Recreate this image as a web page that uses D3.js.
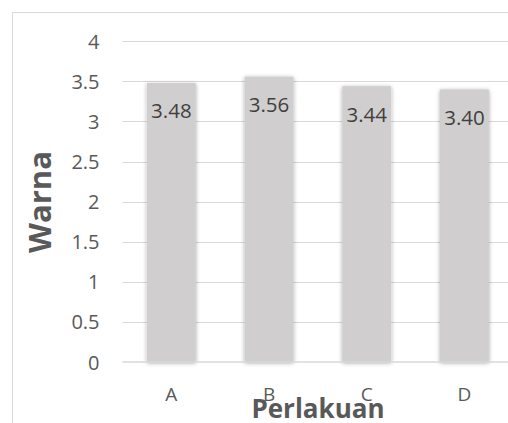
<!DOCTYPE html>
<html>
<head>
<meta charset="utf-8">
<script src="https://cdn.jsdelivr.net/npm/d3@7"></script>
<style>
  html, body { margin: 0; padding: 0; background: #fff; }
  svg { display: block; }
  text { font-family: "Open Sans", "Noto Sans", sans-serif; }
</style>
</head>
<body>
<svg id="chart" width="508" height="423"></svg>
<script>
// Data
const categories = ["A", "B", "C", "D"];
const values = [3.48, 3.56, 3.44, 3.40];
const valueLabels = ["3.48", "3.56", "3.44", "3.40"];
const yTicks = [0, 0.5, 1, 1.5, 2, 2.5, 3, 3.5, 4];
const yTickLabels = ["0", "0.5", "1", "1.5", "2", "2.5", "3", "3.5", "4"];
const xTitle = "Perlakuan";
const yTitle = "Warna";

const svg = d3.select("#chart");

// Outer chart frame (continues past the right and bottom edges)
svg.append("rect")
  .attr("x", 12.5).attr("y", 12.5)
  .attr("width", 540).attr("height", 440)
  .attr("fill", "#fff").attr("stroke", "#d9d9d9").attr("stroke-width", 1);

// Soft shadow for the bars
const defs = svg.append("defs");
const f = defs.append("filter").attr("id", "barShadow")
  .attr("x", "-30%").attr("y", "-10%").attr("width", "160%").attr("height", "120%");
f.append("feDropShadow")
  .attr("dx", 0).attr("dy", 1)
  .attr("stdDeviation", 2)
  .attr("flood-color", "#000").attr("flood-opacity", 0.35);

const plot = { left: 122.5, right: 513.3, top: 41.3, bottom: 362 };

const x = d3.scaleBand()
  .domain(categories)
  .range([plot.left, plot.right])
  .paddingInner(0.5).paddingOuter(0.25);

const y = d3.scaleLinear().domain([0, 4]).range([plot.bottom, plot.top]);

// Gridlines
svg.append("g")
  .selectAll("line")
  .data(yTicks.filter(d => d > 0))
  .join("line")
  .attr("x1", plot.left).attr("x2", plot.right)
  .attr("y1", d => Math.round(y(d)) + 0.5).attr("y2", d => Math.round(y(d)) + 0.5)
  .attr("stroke", "#d9d9d9").attr("stroke-width", 1);

// Bars
svg.append("g")
  .selectAll("rect")
  .data(values)
  .join("rect")
  .attr("x", (d, i) => x(categories[i]))
  .attr("y", d => y(d))
  .attr("width", x.bandwidth())
  .attr("height", d => y(0) - y(d))
  .attr("fill", "#d0cece")
  .attr("filter", "url(#barShadow)");

// Baseline axis line
svg.append("line")
  .attr("x1", plot.left).attr("x2", plot.right)
  .attr("y1", y(0)).attr("y2", y(0))
  .attr("stroke", "#d9d9d9").attr("stroke-width", 1.5);

// Y axis tick labels
const yAxis = d3.axisLeft(y)
  .tickValues(yTicks)
  .tickFormat((d, i) => yTickLabels[i])
  .tickSize(0).tickPadding(0);
const gy = svg.append("g")
  .attr("transform", `translate(${plot.left - 23},0)`)
  .call(yAxis);
gy.select(".domain").remove();
gy.selectAll("text")
  .attr("fill", "#595959")
  .style("font-size", "20px")
  .attr("dy", "0.35em");

// X axis category labels
const xAxis = d3.axisBottom(x).tickSize(0).tickPadding(0);
const gx = svg.append("g")
  .attr("transform", `translate(0,401)`)
  .call(xAxis);
gx.select(".domain").remove();
gx.selectAll("text")
  .attr("fill", "#595959")
  .style("font-size", "19px")
  .attr("y", 0)
  .attr("dy", 0);

// Value labels inside the bar tops
svg.append("g")
  .selectAll("text")
  .data(values)
  .join("text")
  .attr("x", (d, i) => x(categories[i]) + x.bandwidth() / 2)
  .attr("y", d => y(d) + 35.5)
  .attr("text-anchor", "middle")
  .attr("fill", "#404040")
  .style("font-size", "20.5px")
  .text((d, i) => valueLabels[i]);

// Axis titles
svg.append("text")
  .attr("x", 318).attr("y", 418)
  .attr("text-anchor", "middle")
  .attr("fill", "#595959")
  .style("font-size", "26px").style("font-weight", "bold")
  .text(xTitle);

svg.append("text")
  .attr("transform", "translate(51,202) rotate(-90)")
  .attr("text-anchor", "middle")
  .attr("fill", "#595959")
  .style("font-size", "31px").style("font-weight", "bold")
  .text(yTitle);
</script>
</body>
</html>
